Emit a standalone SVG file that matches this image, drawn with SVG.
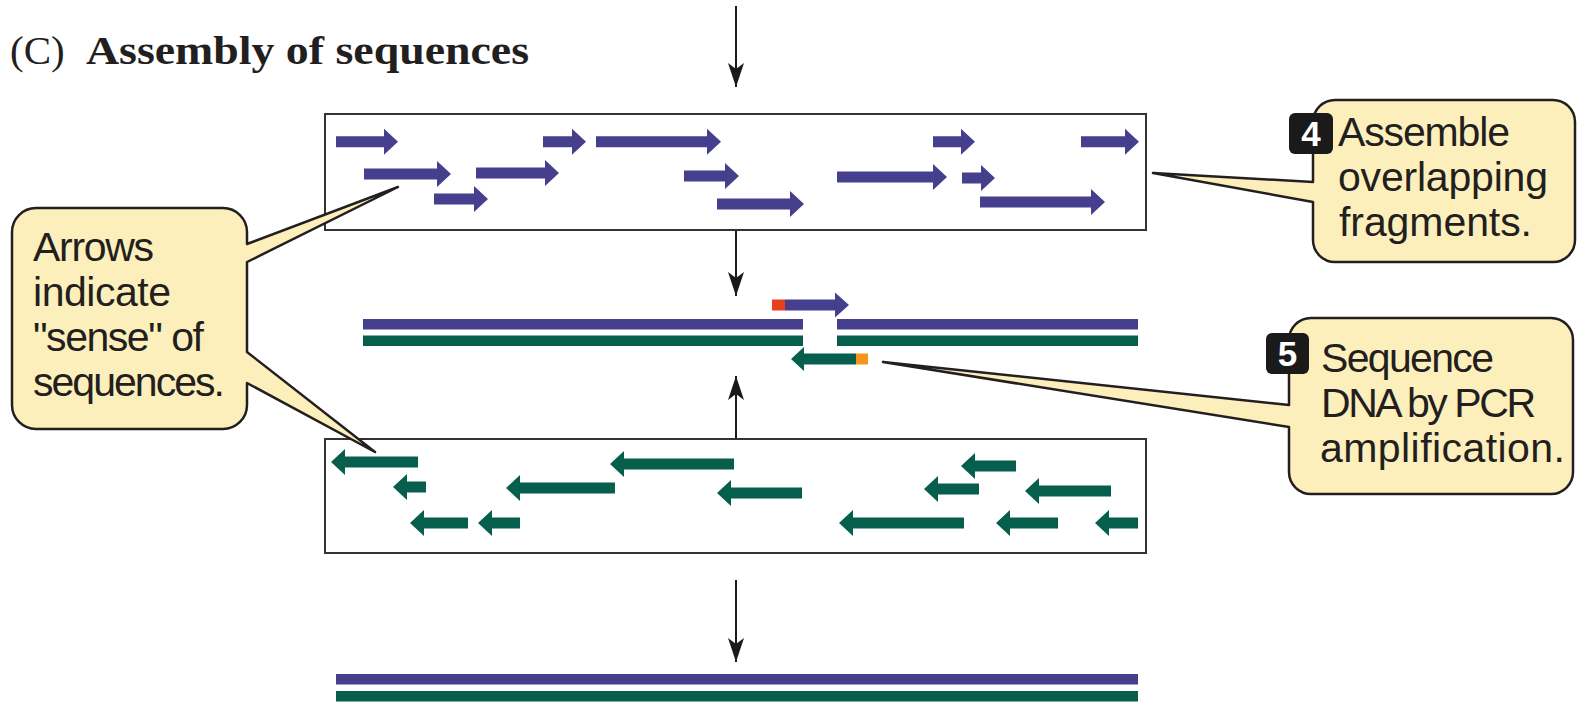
<svg xmlns="http://www.w3.org/2000/svg" width="1577" height="704" viewBox="0 0 1577 704">
<style>
.bl{fill:#453f8e}
.gr{fill:#065e4d}
.box{fill:none;stroke:#333;stroke-width:2}
.con{stroke:#1a1a1a;stroke-width:2;fill:none}
.call{fill:#fcefbb;stroke:#231f20;stroke-width:2.5;stroke-linejoin:round}
.ct{font-family:"Liberation Sans",Arial,sans-serif;font-size:41px;fill:#231f20}
.badge{fill:#1a1a1a}
.bt{font-family:"Liberation Sans",Arial,sans-serif;font-size:35px;font-weight:bold;fill:#fff;text-anchor:middle}
</style>
<defs>
<marker id="ah" markerUnits="userSpaceOnUse" markerWidth="26" markerHeight="18" refX="24" refY="8" orient="auto">
<path d="M0,0 L24,8 L0,16 L6,8 Z" fill="#1a1a1a"/>
</marker>
</defs>
<rect width="1577" height="704" fill="#fff"/>

<g id="title">
<text x="10" y="64" font-family="'Liberation Serif','Times New Roman',serif" font-size="41" fill="#231f20">(C)</text>
<text x="86" y="64" font-family="'Liberation Serif','Times New Roman',serif" font-size="41" font-weight="bold" fill="#231f20" textLength="443" lengthAdjust="spacingAndGlyphs">Assembly of sequences</text>
</g>

<g id="connectors">
<line class="con" x1="736" y1="6" x2="736" y2="87" marker-end="url(#ah)"/>
<line class="con" x1="736" y1="230" x2="736" y2="296" marker-end="url(#ah)"/>
<line class="con" x1="736" y1="439" x2="736" y2="376" marker-end="url(#ah)"/>
<line class="con" x1="736" y1="580" x2="736" y2="662" marker-end="url(#ah)"/>
</g>

<g id="sense-fragments">
<rect class="box" x="325" y="114" width="821" height="116" fill="#fff"/>
<g class="bl">
<path d="M336,136.2 H384 V128.7 L398,141.7 L384,154.7 V147.2 H336 Z"/>
<path d="M543,136.2 H572 V128.7 L586,141.7 L572,154.7 V147.2 H543 Z"/>
<path d="M596,136.2 H707 V128.7 L721,141.7 L707,154.7 V147.2 H596 Z"/>
<path d="M933,136.2 H961 V128.7 L975,141.7 L961,154.7 V147.2 H933 Z"/>
<path d="M1081,136.2 H1125 V128.7 L1139,141.7 L1125,154.7 V147.2 H1081 Z"/>
<path d="M364,168.5 H437 V161 L451,174 L437,187 V179.5 H364 Z"/>
<path d="M476,167.5 H545 V160 L559,173 L545,186 V178.5 H476 Z"/>
<path d="M684,170.5 H725 V163 L739,176 L725,189 V181.5 H684 Z"/>
<path d="M837,171.5 H933 V164 L947,177 L933,190 V182.5 H837 Z"/>
<path d="M962,172.5 H981 V165 L995,178 L981,191 V183.5 H962 Z"/>
<path d="M434,193.5 H474 V186 L488,199 L474,212 V204.5 H434 Z"/>
<path d="M717,198.5 H790 V191 L804,204 L790,217 V209.5 H717 Z"/>
<path d="M980,196.5 H1091 V189 L1105,202 L1091,215 V207.5 H980 Z"/>
</g>
</g>

<g id="duplex-gap">
<rect class="bl" x="363" y="319" width="440" height="10.5"/>
<rect class="bl" x="837" y="319" width="301" height="10.5"/>
<rect class="gr" x="363" y="335.5" width="440" height="10.5"/>
<rect class="gr" x="837" y="335.5" width="301" height="10.5"/>
<rect x="772" y="299.5" width="13" height="11" fill="#e8401c"/>
<path class="bl" d="M785,299.5 H835 V292.5 L849,305 L835,317.5 V310.5 H785 Z"/>
<rect x="856" y="353.5" width="12" height="11" fill="#f7941d"/>
<path class="gr" d="M856,353.5 H804 V347 L791,359 L804,371 V364.5 H856 Z"/>
</g>

<g id="antisense-fragments">
<rect class="box" x="325" y="439" width="821" height="114" fill="#fff"/>
<g class="gr">
<path d="M418,456.5 H345 V449 L331,462 L345,475 V467.5 H418 Z"/>
<path d="M734,458.5 H624 V451 L610,464 L624,477 V469.5 H734 Z"/>
<path d="M1016,460.5 H975 V453 L961,466 L975,479 V471.5 H1016 Z"/>
<path d="M426,481.5 H407 V474 L393,487 L407,500 V492.5 H426 Z"/>
<path d="M615,482.5 H520 V475 L506,488 L520,501 V493.5 H615 Z"/>
<path d="M802,487.5 H731 V480 L717,493 L731,506 V498.5 H802 Z"/>
<path d="M979,483.5 H938 V476 L924,489 L938,502 V494.5 H979 Z"/>
<path d="M1111,485.5 H1039 V478 L1025,491 L1039,504 V496.5 H1111 Z"/>
<path d="M468,517.5 H424 V510 L410,523 L424,536 V528.5 H468 Z"/>
<path d="M520,517.5 H492 V510 L478,523 L492,536 V528.5 H520 Z"/>
<path d="M964,517.5 H853 V510 L839,523 L853,536 V528.5 H964 Z"/>
<path d="M1058,517.5 H1010 V510 L996,523 L1010,536 V528.5 H1058 Z"/>
<path d="M1138,517.5 H1109 V510 L1095,523 L1109,536 V528.5 H1138 Z"/>
</g>
</g>

<g id="assembled-duplex">
<rect class="bl" x="336" y="674" width="802" height="10.5"/>
<rect class="gr" x="336" y="691" width="802" height="10.5"/>
</g>

<g id="callout-sense">
<path class="call" d="M36,208 H223 A24,24 0 0 1 247,232 V244 L398,187 L247,262 V352 L375,452 L247,383 V405 A24,24 0 0 1 223,429 H36 A24,24 0 0 1 12,405 V232 A24,24 0 0 1 36,208 Z"/>
<text class="ct" x="33" y="261" textLength="121">Arrows</text>
<text class="ct" x="33" y="306" textLength="138">indicate</text>
<text class="ct" x="33" y="351" textLength="171">"sense" of</text>
<text class="ct" x="33" y="396" textLength="192">sequences.</text>
</g>

<g id="callout-step4">
<path class="call" d="M1335,100 H1553 A22,22 0 0 1 1575,122 V240 A22,22 0 0 1 1553,262 H1335 A22,22 0 0 1 1313,240 V202 L1153,173 L1313,182 V122 A22,22 0 0 1 1335,100 Z"/>
<rect class="badge" x="1289" y="113" width="44" height="41" rx="6"/>
<text class="bt" x="1311" y="146">4</text>
<text class="ct" x="1338" y="146" textLength="172">Assemble</text>
<text class="ct" x="1338" y="191" textLength="210">overlapping</text>
<text class="ct" x="1339" y="236" textLength="193">fragments.</text>
</g>

<g id="callout-step5">
<path class="call" d="M1311,318 H1551 A22,22 0 0 1 1573,340 V472 A22,22 0 0 1 1551,494 H1311 A22,22 0 0 1 1289,472 V427 L883,362 L1289,405 V340 A22,22 0 0 1 1311,318 Z"/>
<rect class="badge" x="1266" y="333" width="43" height="41" rx="6"/>
<text class="bt" x="1287.5" y="366">5</text>
<text class="ct" x="1321" y="372" textLength="173">Sequence</text>
<text class="ct" x="1321" y="417" textLength="215">DNA by PCR</text>
<text class="ct" x="1320" y="462" textLength="245">amplification.</text>
</g>
</svg>
